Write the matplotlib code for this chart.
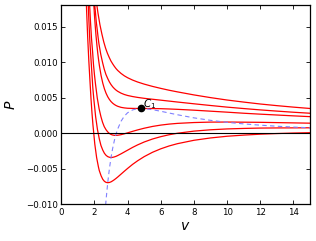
import matplotlib
matplotlib.use('Agg')
import matplotlib.pyplot as plt

# isotherms (v, P), hottest first
v_a = [2.05, 2.1, 2.15, 2.21, 2.33, 2.45, 2.56, 2.67, 2.78, 2.89, 2.99, 3.1, 3.2, 3.3, 3.4, 3.6, 3.8, 4.0, 4.3, 4.6, 5.0, 5.5, 6.0, 6.5, 7, 8, 9, 10, 11, 12, 13, 14, 15]
p_a = [0.02031, 0.01904, 0.01792, 0.01693, 0.01526, 0.01393, 0.01285, 0.01197, 0.01125, 0.01066, 0.01017, 0.00975, 0.0094, 0.00909, 0.00883, 0.00841, 0.00807, 0.0078, 0.00747, 0.0072, 0.0069, 0.00658, 0.0063, 0.00604, 0.00581, 0.00538, 0.005, 0.00466, 0.00437, 0.0041, 0.00387, 0.00366, 0.00347]

v_b = [1.95, 2.0, 2.06, 2.11, 2.17, 2.22, 2.27, 2.38, 2.49, 2.59, 2.69, 2.8, 2.9, 3.0, 3.1, 3.2, 3.3, 3.4, 3.6, 3.8, 4.0, 4.3, 4.6, 5.0, 5.5, 6.0, 6.5, 7, 8, 9, 10, 11, 12, 13, 14, 15]
p_b = [0.0202, 0.01848, 0.01697, 0.01565, 0.0145, 0.01348, 0.01258, 0.01109, 0.00993, 0.009, 0.00827, 0.00768, 0.00721, 0.00683, 0.00652, 0.00627, 0.00606, 0.00589, 0.00563, 0.00544, 0.0053, 0.00515, 0.00503, 0.0049, 0.00477, 0.00464, 0.00451, 0.00438, 0.00413, 0.00389, 0.00366, 0.00346, 0.00327, 0.0031, 0.00294, 0.0028]

v_c = [1.95, 2.0, 2.05, 2.1, 2.15, 2.2, 2.25, 2.3, 2.4, 2.5, 2.6, 2.7, 2.8, 2.9, 3.0, 3.1, 3.2, 3.3, 3.4, 3.6, 3.8, 4.0, 4.3, 4.6, 5.0, 5.5, 6.0, 6.5, 7, 8, 9, 10, 11, 12, 13, 14, 15]
p_c = [0.0185, 0.01661, 0.01498, 0.01355, 0.01232, 0.01123, 0.01029, 0.00946, 0.0081, 0.00705, 0.00624, 0.00561, 0.00512, 0.00474, 0.00444, 0.00421, 0.00403, 0.00389, 0.00378, 0.00363, 0.00355, 0.0035, 0.00348, 0.00347, 0.00347, 0.00346, 0.00344, 0.0034, 0.00335, 0.00323, 0.00309, 0.00295, 0.0028, 0.00267, 0.00255, 0.00243, 0.00232]

v_d = [1.65, 1.7, 1.76, 1.82, 1.89, 1.94, 2.0, 2.06, 2.12, 2.17, 2.23, 2.28, 2.39, 2.49, 2.59, 2.7, 2.8, 2.9, 3.0, 3.1, 3.2, 3.3, 3.4, 3.6, 3.8, 4.0, 4.3, 4.6, 5.0, 5.5, 6.0, 6.5, 7, 8, 9, 10, 11, 12, 13, 14, 15]
p_d = [0.0216, 0.01841, 0.0157, 0.01337, 0.01138, 0.00968, 0.00821, 0.00695, 0.00586, 0.00493, 0.00412, 0.00343, 0.00232, 0.00151, 0.00091, 0.00047, 0.00017, -0.00005, -0.00019, -0.00027, -0.00031, -0.00032, -0.0003, -0.00022, -0.0001, 0.00004, 0.00025, 0.00045, 0.00069, 0.00094, 0.00113, 0.00127, 0.00137, 0.00149, 0.00155, 0.00156, 0.00154, 0.00152, 0.00148, 0.00144, 0.0014]

v_e = [1.55, 1.6, 1.66, 1.72, 1.79, 1.85, 1.9, 1.96, 2.02, 2.07, 2.13, 2.18, 2.24, 2.29, 2.39, 2.5, 2.6, 2.7, 2.8, 2.9, 3.0, 3.1, 3.2, 3.3, 3.4, 3.6, 3.8, 4.0, 4.3, 4.6, 5.0, 5.5, 6.0, 6.5, 7, 8, 9, 10, 11, 12, 13, 14, 15]
p_e = [0.02385, 0.01962, 0.01604, 0.01301, 0.01044, 0.00825, 0.00639, 0.00481, 0.00346, 0.00232, 0.00134, 0.00051, -0.0002, -0.0008, -0.00173, -0.00239, -0.00284, -0.00313, -0.00331, -0.0034, -0.00343, -0.00341, -0.00335, -0.00327, -0.00316, -0.00292, -0.00266, -0.0024, -0.00201, -0.00166, -0.00125, -0.00083, -0.0005, -0.00023, -0.00002, 0.00028, 0.00047, 0.00059, 0.00066, 0.00071, 0.00073, 0.00074, 0.00075]

v_f = [1.47, 1.52, 1.59, 1.66, 1.73, 1.79, 1.85, 1.91, 1.97, 2.02, 2.08, 2.13, 2.19, 2.24, 2.29, 2.4, 2.5, 2.6, 2.7, 2.8, 2.9, 3.0, 3.1, 3.2, 3.3, 3.4, 3.6, 3.8, 4.0, 4.3, 4.6, 5.0, 5.5, 6.0, 6.5, 7, 8, 9, 10, 11, 12, 13, 14, 15]
p_f = [0.02245, 0.01762, 0.01357, 0.01017, 0.0073, 0.00488, 0.00284, 0.00112, -0.00033, -0.00155, -0.00258, -0.00344, -0.00417, -0.00477, -0.00527, -0.00601, -0.0065, -0.00679, -0.00694, -0.00698, -0.00695, -0.00686, -0.00672, -0.00656, -0.00638, -0.00619, -0.00578, -0.00537, -0.00497, -0.0044, -0.0039, -0.00331, -0.0027, -0.00221, -0.00181, -0.00149, -0.00101, -0.00068, -0.00044, -0.00028, -0.00015, -0.00006, 0.00001, 0.00006]

# dashed spinodal
v_sp = [2.6, 2.7, 2.8, 2.9, 3.0, 3.1, 3.2, 3.3, 3.4, 3.6, 3.8, 4.0, 4.3, 4.6, 4.82, 5.0, 5.5, 6.0, 6.5, 7, 8, 9, 10, 11, 12, 13, 14, 15]
p_sp = [-0.01232, -0.00938, -0.00698, -0.00503, -0.00343, -0.00212, -0.00104, -0.00016, 0.00057, 0.00166, 0.00239, 0.00287, 0.00327, 0.00344, 0.00347, 0.00345, 0.0033, 0.00308, 0.00283, 0.00259, 0.00215, 0.0018, 0.00152, 0.0013, 0.00112, 0.00097, 0.00085, 0.00075]

# critical point
v_c1, p_c1 = 4.82, 0.00347

fig = plt.figure(figsize=(3.16, 2.41), dpi=100)
ax = fig.add_axes([0.194, 0.153, 0.787, 0.825])

for vv, pp in [(v_a, p_a), (v_b, p_b), (v_c, p_c), (v_d, p_d), (v_e, p_e), (v_f, p_f)]:
    ax.plot(vv, pp, color='r', lw=0.9)
ax.plot(v_sp, p_sp, color='#8080ff', lw=0.8, ls='--', dashes=(4, 3))
ax.axhline(0, color='k', lw=0.8)
ax.plot([v_c1], [p_c1], 'o', color='k', ms=4.5)
ax.annotate('$C_1$', (v_c1, p_c1), xytext=(1.2, 1.2), textcoords='offset points',
            fontsize=7.5, ha='left', va='baseline')

ax.set_xlim(0, 15)
ax.set_ylim(-0.01, 0.018)
ax.set_xticks([0, 2, 4, 6, 8, 10, 12, 14])
ax.set_yticks([-0.010, -0.005, 0.000, 0.005, 0.010, 0.015])
ax.set_yticklabels(['\u22120.010', '\u22120.005', '0.000', '0.005', '0.010', '0.015'])
ax.tick_params(direction='in', top=True, right=True, labelsize=6.2, length=3, width=0.6, pad=2.5)
for s in ax.spines.values():
    s.set_linewidth(0.9)
ax.set_xlabel('$v$', fontsize=10, labelpad=2)
ax.set_ylabel('$P$', fontsize=10, labelpad=6)

fig.savefig('out.png', dpi=100)
